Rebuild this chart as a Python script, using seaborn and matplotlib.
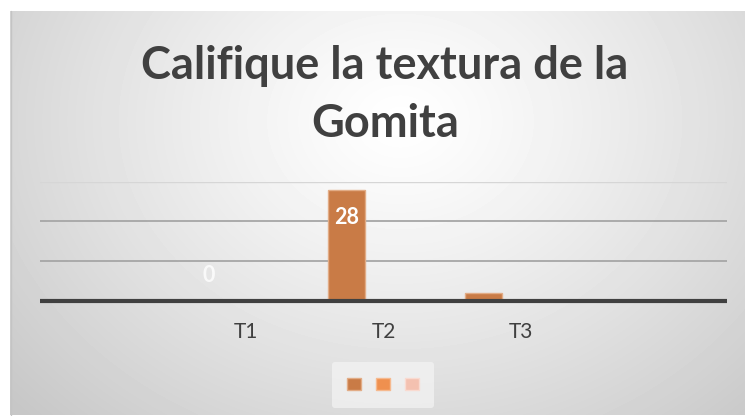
import matplotlib
matplotlib.use("Agg")
import matplotlib.pyplot as plt
from matplotlib.patches import Patch
import seaborn as sns
import numpy as np
import pandas as pd

# data
categories = ["", "T1", "T2", "T3", " "]
series_names = ["Serie 1", "Serie 2", "Serie 3"]
serie1 = [np.nan, 0, 28, 2, np.nan]
serie2 = [0, 0, 0, 0, 0]
serie3 = [0, 0, 0, 0, 0]
labelled = ["T1", "T2"]
title = "Califique la textura de la\nGomita"

colors = ["#C97B46", "#EF904F", "#F4C1B0"]
edges = ["#E2AC86", "#F6B98E", "#F9DAD0"]

df = pd.DataFrame({
    "cat": categories * 3,
    "serie": np.repeat(series_names, len(categories)),
    "val": serie1 + serie2 + serie3,
})

sns.set_theme(style="white")
plt.rcParams["font.family"] = ["Lato", "DejaVu Sans"]

W, H = 745, 416
fig = plt.figure(figsize=(W / 100, H / 100), dpi=100)
fig.patch.set_facecolor("white")

# radial grey gradient behind everything (Excel style)
bg = fig.add_axes([10 / W, 1 / H, 735 / W, 404 / H], zorder=-5)
yy, xx = np.mgrid[0:404, 0:735]
r = np.sqrt(((xx - 390) / 520.0) ** 2 + ((yy - 110) / 420.0) ** 2)
shade = np.clip(1.0 - 0.22 * r ** 1.2, 0.78, 1.0)
bg.imshow(shade, cmap="gray", vmin=0, vmax=1, aspect="auto", interpolation="bilinear")
bg.axis("off")
fig.add_artist(plt.Line2D([10.5 / W, 10.5 / W], [1 / H, 405 / H], color="#c4c4c4", lw=1))

ax = fig.add_axes([40 / W, 1 - 300.7 / H, 687 / W, 119 / H])
ax.set_facecolor("none")
sns.barplot(data=df, x="cat", y="val", hue="serie", order=categories,
            hue_order=series_names, palette=colors, saturation=1, width=0.81,
            gap=0, dodge=True, legend=False, ax=ax, linewidth=0, zorder=3)

for bar in ax.containers[0]:
    bar.set_edgecolor(edges[0])
    bar.set_linewidth(1)

ax.set_ylim(0, 30)
ax.set_xlim(-0.5, len(categories) - 0.5)
for v, c, lw in [(10, "#a6a6a6", 1.3), (20, "#a6a6a6", 1.3), (30, "#d6d6d6", 1.0)]:
    ax.axhline(v, color=c, lw=lw, zorder=1)
ax.axhline(0, color="#404040", lw=3.0, zorder=4, clip_on=False, solid_capstyle="butt")

for s in ax.spines.values():
    s.set_visible(False)
ax.set_yticks([])
ax.set_xlabel("")
ax.set_ylabel("")
ax.tick_params(axis="x", length=0, pad=15, labelsize=15, labelcolor="#404040")

# data labels, matched to bars by their x position
for bar in ax.containers[0]:
    cx = bar.get_x() + bar.get_width() / 2
    i = int(round(cx))
    cat, v = categories[i], serie1[i]
    if cat in labelled:
        dy = -20 if v > 0 else 18
        ax.annotate(f"{v:.0f}", (cx, v), xytext=(0, dy), textcoords="offset points",
                    ha="center", va="center", color="white",
                    fontsize=15.5, fontweight="bold", zorder=5,
                    alpha=1.0 if v > 0 else 0.8)

fig.text(385 / W, 1 - 95 / H, title, ha="center", va="center",
         fontsize=32.5, fontweight="bold", color="#404040", linespacing=1.45)

handles = [Patch(facecolor=c, edgecolor=e, lw=1) for c, e in zip(colors, edges)]
leg = fig.legend(handles, ["", "", ""], loc="center", bbox_to_anchor=(383 / W, 1 - 385 / H),
                 ncol=3, frameon=True, handlelength=0.9, handleheight=0.9,
                 handletextpad=0, columnspacing=1.0, borderpad=1.0, fontsize=11)
leg.get_frame().set_facecolor("#f4f4f4")
leg.get_frame().set_edgecolor("none")
leg.get_frame().set_alpha(0.7)

fig.savefig("out.png", dpi=100)
